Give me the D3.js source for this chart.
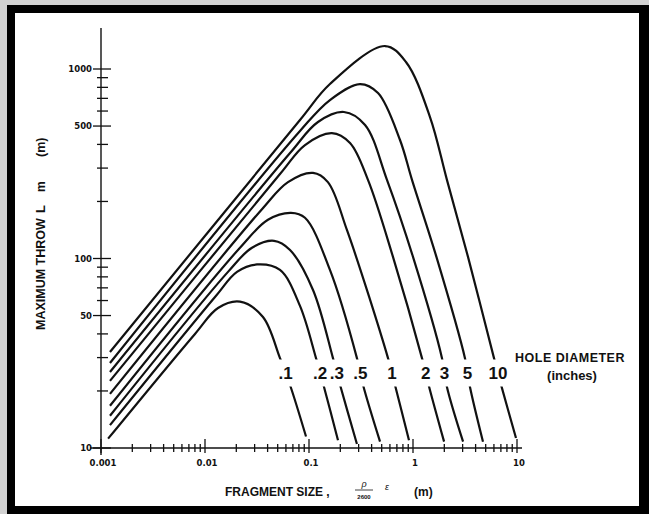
<!DOCTYPE html>
<html>
<head>
<meta charset="utf-8">
<script src="https://cdn.jsdelivr.net/npm/d3@7"></script>
<style>
  body { margin: 0; background: #fff; }
  svg { display: block; }
  text { font-family: "Liberation Sans", Arial, sans-serif; fill: #111; }
</style>
</head>
<body>
<div id="chart"></div>
<script>
var width = 649;
var height = 514;

// Hole diameter (inches) for each curve, smallest first
var holeLabels = [".1", ".2", ".3", ".5", "1", "2", "3", "5", "10"];

// Fragment size (m) along each curve
var fragSize = [
  [0.00117, 0.00801, 0.01334, 0.0217, 0.0361, 0.0526, 0.0657, 0.0936],
  [0.00122, 0.01248, 0.0203, 0.0316, 0.0526, 0.0819, 0.1168, 0.1394, 0.190],
  [0.00122, 0.01664, 0.0283, 0.0461, 0.0657, 0.1093, 0.170, 0.199, 0.289],
  [0.00122, 0.0217, 0.0403, 0.0671, 0.0915, 0.159, 0.289, 0.331, 0.482],
  [0.00122, 0.0353, 0.0628, 0.1093, 0.152, 0.232, 0.575, 0.671, 0.915],
  [0.00122, 0.0526, 0.0915, 0.166, 0.248, 0.369, 0.642, 1.22, 1.43, 1.99],
  [0.00122, 0.0657, 0.122, 0.217, 0.346, 0.562, 1.0, 1.90, 2.12, 3.03],
  [0.00122, 0.0819, 0.159, 0.309, 0.461, 0.750, 0.978, 1.68, 3.16, 3.53, 4.71],
  [0.00122, 0.0819, 0.159, 0.538, 0.856, 1.457, 2.12, 3.38, 6.01, 7.17, 9.78]
];

// Maximum throw (m) at those fragment sizes
var maxThrow = [
  [11.2, 40.0, 54.8, 59.2, 49.1, 29.8, 21.5, 11.5],
  [13.2, 62.6, 85, 93, 87, 56.2, 29.8, 21.0, 11.0],
  [14.8, 85, 114, 124, 111, 68.2, 29.8, 21.5, 10.5],
  [16.7, 114, 160, 174, 164, 87, 29.8, 21.5, 10.8],
  [19.3, 182, 253, 283, 253, 141, 29.8, 21.5, 11.0],
  [22.6, 279, 397, 459, 407, 260, 102, 29.8, 21.0, 10.8],
  [25.2, 360, 525, 593, 506, 260, 102, 29.8, 21.0, 10.8],
  [28.1, 471, 686, 833, 747, 422, 260, 102, 29.8, 21.0, 10.8],
  [32.1, 538, 833, 1322, 1089, 558, 260, 102, 29.8, 20.7, 11.3]
];

var xTickValues = [0.001, 0.01, 0.1, 1, 10];
var xTickLabels = ["0.001", "0.01", "0.1", "1", "10"];
var yTickValues = [10, 50, 100, 500, 1000];
var yTickLabels = ["10", "50", "100", "500", "1000"];

var svg = d3.select("#chart").append("svg")
  .attr("width", width)
  .attr("height", height);

// scanned-page frame
svg.append("rect").attr("width", width).attr("height", height).attr("fill", "#d2d2d2");
svg.append("rect").attr("x", 7).attr("y", 5).attr("width", 642).attr("height", 509).attr("fill", "#000");
svg.append("rect").attr("x", 15).attr("y", 13).attr("width", 624).attr("height", 493).attr("fill", "#fff");

var x = d3.scaleLog().domain([0.001, 10]).range([101, 517]);
var y = d3.scaleLog().domain([10, 1000]).range([448, 69]);

var x0 = x(0.001);
var y0 = y(10);

// axis lines
svg.append("line")
  .attr("x1", x0).attr("x2", x0)
  .attr("y1", 28).attr("y2", y0 + 7)
  .attr("stroke", "#111").attr("stroke-width", 1.4);

svg.append("line")
  .attr("x1", x0 - 11).attr("x2", x(10) + 5)
  .attr("y1", y0).attr("y2", y0)
  .attr("stroke", "#111").attr("stroke-width", 1.4);

// y ticks (minor + major)
svg.selectAll(".ytick").data(y.ticks())
  .enter().append("line")
  .attr("class", "ytick")
  .attr("x1", function (d) { return yTickValues.indexOf(d) >= 0 ? x0 - 8 : x0 - 4; })
  .attr("x2", function (d) { return yTickValues.indexOf(d) >= 0 ? x0 + 10 : x0 + 7; })
  .attr("y1", function (d) { return y(d); })
  .attr("y2", function (d) { return y(d); })
  .attr("stroke", "#111").attr("stroke-width", 1.3);

svg.selectAll(".ylabel").data(yTickValues)
  .enter().append("text")
  .attr("class", "ylabel")
  .attr("x", x0 - 9)
  .attr("y", function (d) { return y(d) + 3; })
  .attr("text-anchor", "end")
  .style("font-family", "'DejaVu Sans', sans-serif")
  .style("font-weight", "bold")
  .style("font-size", "8.5px")
  .text(function (d, i) { return yTickLabels[i]; });

// x ticks (minor + major)
svg.selectAll(".xtick").data(x.ticks())
  .enter().append("line")
  .attr("class", "xtick")
  .attr("x1", function (d) { return x(d); })
  .attr("x2", function (d) { return x(d); })
  .attr("y1", function (d) { return xTickValues.indexOf(d) >= 0 ? y0 - 9 : y0 - 4; })
  .attr("y2", function (d) { return xTickValues.indexOf(d) >= 0 ? y0 + 5 : y0 + 4; })
  .attr("stroke", "#111").attr("stroke-width", 1.3);

svg.selectAll(".xlabel").data(xTickValues)
  .enter().append("text")
  .attr("class", "xlabel")
  .attr("x", function (d) { return x(d) + 2; })
  .attr("y", y0 + 18)
  .attr("text-anchor", "middle")
  .style("font-family", "'DejaVu Sans', sans-serif")
  .style("font-weight", "bold")
  .style("font-size", "8.5px")
  .text(function (d, i) { return xTickLabels[i]; });

// curves
var line = d3.line()
  .x(function (d) { return x(d[0]); })
  .y(function (d) { return y(d[1]); })
  .curve(d3.curveCatmullRom.alpha(0.5));

var series = holeLabels.map(function (lab, i) {
  return {
    label: lab,
    points: fragSize[i].map(function (f, j) { return [f, maxThrow[i][j]]; })
  };
});

svg.selectAll(".curve").data(series)
  .enter().append("path")
  .attr("class", "curve")
  .attr("d", function (d) { return line(d.points); })
  .attr("fill", "none")
  .attr("stroke", "#111")
  .attr("stroke-width", 2.2)
  .attr("stroke-linejoin", "round");

// the label row breaks the curves
var gapTop = 359.5, gapBottom = 386.5, labelY = (gapTop + gapBottom) / 2;
svg.append("rect")
  .attr("x", 268).attr("y", gapTop)
  .attr("width", 245).attr("height", gapBottom - gapTop)
  .attr("fill", "#fff");

// x where a curve's falling side crosses the label row
function crossX(pts) {
  for (var j = pts.length - 1; j > 0; j--) {
    var ax = x(pts[j - 1][0]), ay = y(pts[j - 1][1]);
    var bx = x(pts[j][0]), by = y(pts[j][1]);
    if (ay <= labelY && by >= labelY) {
      return ax + (bx - ax) * (labelY - ay) / (by - ay);
    }
  }
  return 0;
}

svg.selectAll(".hole").data(series)
  .enter().append("text")
  .attr("class", "hole")
  .attr("x", function (d) { return crossX(d.points); })
  .attr("y", 379)
  .attr("text-anchor", "middle")
  .style("font-size", "17px")
  .style("font-weight", "bold")
  .text(function (d) { return d.label; });

svg.append("text")
  .attr("x", 515).attr("y", 362)
  .style("font-size", "12.5px").style("font-weight", "bold")
  .style("letter-spacing", "0.5px")
  .text("HOLE DIAMETER");

svg.append("text")
  .attr("x", 572).attr("y", 380)
  .attr("text-anchor", "middle")
  .style("font-size", "13px").style("font-weight", "bold")
  .text("(inches)");

// y axis title
var yt = svg.append("g").attr("transform", "translate(45,0) rotate(-90)");
yt.append("text").attr("x", -330).attr("y", 0)
  .style("font-size", "12.5px").style("font-weight", "bold")
  .text("MAXIMUM THROW");
yt.append("text").attr("x", -213).attr("y", 0)
  .style("font-size", "13px").style("font-weight", "bold")
  .text("L");
yt.append("text").attr("x", -192).attr("y", 0)
  .style("font-size", "12px").style("font-weight", "bold")
  .text("m");
yt.append("text").attr("x", -157).attr("y", 0)
  .style("font-size", "12.5px").style("font-weight", "bold")
  .text("(m)");

// x axis title
svg.append("text")
  .attr("x", 225).attr("y", 496)
  .style("font-size", "12px").style("font-weight", "bold")
  .text("FRAGMENT SIZE ,");
svg.append("text")
  .attr("x", 364).attr("y", 487)
  .attr("text-anchor", "middle")
  .style("font-size", "9px").style("font-style", "italic")
  .text("ρ");
svg.append("line")
  .attr("x1", 355).attr("x2", 373)
  .attr("y1", 490).attr("y2", 490)
  .attr("stroke", "#111").attr("stroke-width", 0.8);
svg.append("text")
  .attr("x", 364).attr("y", 499)
  .attr("text-anchor", "middle")
  .style("font-size", "6px").style("font-weight", "bold")
  .text("2600");
svg.append("text")
  .attr("x", 385).attr("y", 490)
  .style("font-size", "9px").style("font-style", "italic")
  .text("ε");
svg.append("text")
  .attr("x", 414).attr("y", 496)
  .style("font-size", "12px").style("font-weight", "bold")
  .text("(m)");
</script>
</body>
</html>
